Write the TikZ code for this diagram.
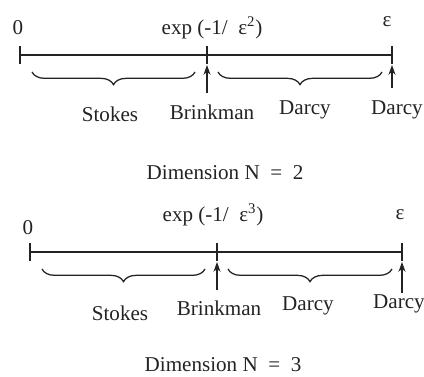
\documentclass[tikz,border=0pt]{standalone}
\usepackage{fontspec}
\setmainfont{Liberation Serif}
\usetikzlibrary{arrows.meta, decorations.pathreplacing}
\definecolor{ScanInk}{RGB}{35,35,35}
\tikzset{
  axis/.style={draw=ScanInk, line width=1pt},
  tickmark/.style={draw=ScanInk, line width=1pt},
  brc/.style={draw=ScanInk, decorate, decoration={brace, mirror, amplitude=9pt}, line width=0.9pt},
  uparr/.style={-{Stealth[length=7pt, width=5pt]}, draw=ScanInk, line width=1pt},
  lbl/.style={font=\fontsize{15}{18}\selectfont, text=ScanInk, inner sep=0pt}
}

\begin{document}
\begin{tikzpicture}[x=0.025cm, y=-0.025cm]
  \useasboundingbox (0,0) rectangle (424,377);

  % N = 2
  \coordinate (a0) at (20,55);
  \coordinate (a1) at (207,55);
  \coordinate (a2) at (392,55);
  \draw[axis] (a0) -- (a2);
  \foreach \c in {a0,a1,a2}
    \draw[tickmark] (\c) +(0,-9) -- +(0,9);

  \node[lbl] (zero2) at (18,28) {0};
  \node[lbl] (exp2) at (212,28) {exp (-1/\ \ ε\textsuperscript{2})};
  \node[lbl] (eps2) at (387,22) {ε};

  \coordinate (s2a) at (32,72);
  \coordinate (s2b) at (195,72);
  \coordinate (d2a) at (218,72);
  \coordinate (d2b) at (382,72);
  \draw[brc] (s2a) -- (s2b);
  \draw[brc] (d2a) -- (d2b);

  \coordinate (b2m) at (207,93);
  \coordinate (b2e) at (392,88);
  \draw[uparr] (b2m) -- ([yshift=-0.25cm]a1);
  \draw[uparr] (b2e) -- ([yshift=-0.25cm]a2);

  \node[lbl] (stokes2) at (110,114) {Stokes};
  \node[lbl] (brink2) at (212,112) {Brinkman};
  \node[lbl] (darcy2) at (305,110) {Darcy};
  \node[lbl] (darcye2) at (397,110) {Darcy};
  \node[lbl] (dim2) at (225,173) {Dimension N\ \ =\ \ 2};

  % N = 3
  \coordinate (c0) at (30,252);
  \coordinate (c1) at (217,252);
  \coordinate (c2) at (402,252);
  \draw[axis] (c0) -- (c2);
  \foreach \c in {c0,c1,c2}
    \draw[tickmark] (\c) +(0,-9) -- +(0,9);

  \node[lbl] (zero3) at (28,228) {0};
  \node[lbl] (exp3) at (213,215) {exp (-1/\ \ ε\textsuperscript{3})};
  \node[lbl] (eps3) at (400,215) {ε};

  \coordinate (s3a) at (42,269);
  \coordinate (s3b) at (205,269);
  \coordinate (d3a) at (228,269);
  \coordinate (d3b) at (392,269);
  \draw[brc] (s3a) -- (s3b);
  \draw[brc] (d3a) -- (d3b);

  \coordinate (b3m) at (217,290);
  \coordinate (b3e) at (402,293);
  \draw[uparr] (b3m) -- ([yshift=-0.25cm]c1);
  \draw[uparr] (b3e) -- ([yshift=-0.25cm]c2);

  \node[lbl] (stokes3) at (120,313) {Stokes};
  \node[lbl] (brink3) at (219,308) {Brinkman};
  \node[lbl] (darcy3) at (308,306) {Darcy};
  \node[lbl] (darcye3) at (399,304) {Darcy};
  \node[lbl] (dim3) at (223,365) {Dimension N\ \ =\ \ 3};
\end{tikzpicture}
\end{document}
